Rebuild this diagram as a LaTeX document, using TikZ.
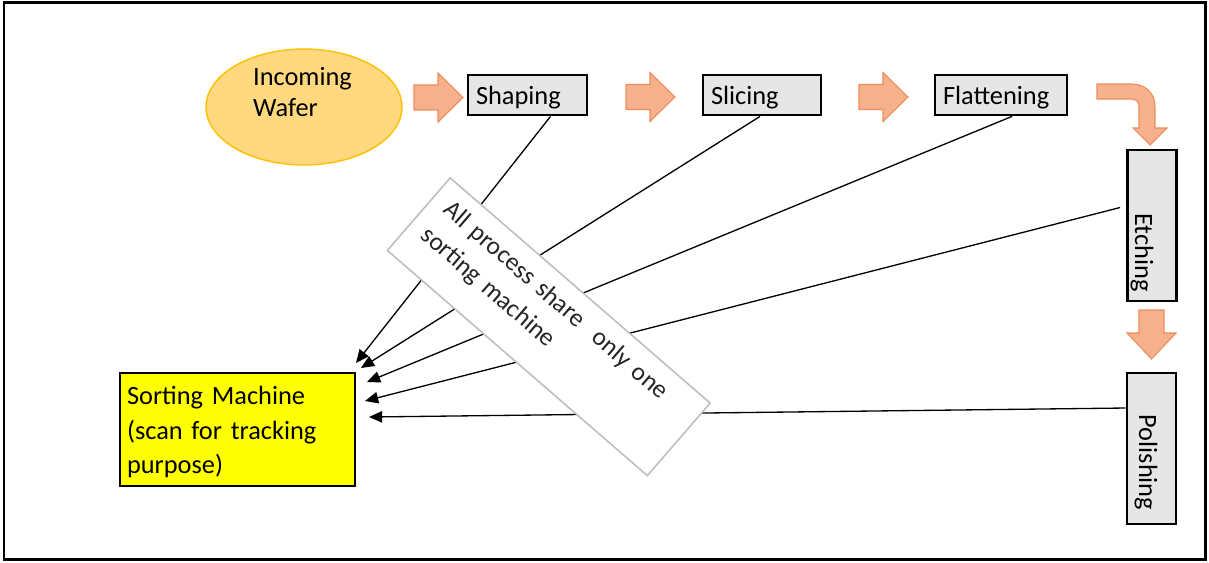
\documentclass[tikz,border=0pt]{standalone}
\usepackage{fontspec}
\setmainfont{Carlito}
\usetikzlibrary{arrows.meta,shapes.geometric,calc}

\definecolor{boxgray}{RGB}{230,230,230}
\definecolor{arrowfill}{RGB}{245,176,140}
\definecolor{arrowedge}{RGB}{240,140,90}
\definecolor{waferfill}{RGB}{255,216,128}
\definecolor{waferedge}{RGB}{255,192,0}
\definecolor{notegray}{RGB}{190,190,190}
\definecolor{sortyellow}{RGB}{255,255,0}

\begin{document}
\begin{tikzpicture}[x=0.02cm,y=-0.02cm,
  font=\fontsize{15}{19.5}\selectfont,
  procbox/.style={draw=black,line width=1.6pt,fill=boxgray,minimum height=0.8cm,
    inner xsep=0.16cm,inner ysep=0pt,align=left,text depth=0pt},
  vbox/.style={draw=black,line width=1.6pt,fill=boxgray,minimum width=0.98cm,
    minimum height=3.02cm,inner sep=0pt},
  vlabel/.style={rotate=-90,inner sep=0pt},
  conn/.style={draw=black,line width=0.75pt,-{Triangle[length=7.5pt,width=6.5pt]}},
  blockarrow/.style={fill=arrowfill,draw=arrowedge,line width=0.6pt,line join=miter},
  rarrow/.pic={\filldraw[blockarrow] (0,-12.5) -- (24,-12.5) -- (24,-24.5) -- (49,0)
    -- (24,24.5) -- (24,12.5) -- (0,12.5) -- cycle;},
  darrow/.pic={\filldraw[blockarrow] (-12.5,0) -- (-12.5,23) -- (-24.5,23) -- (0,49)
    -- (24.5,23) -- (12.5,23) -- (12.5,0) -- cycle;}
]
\useasboundingbox (0,0) rectangle (1209,562);

% outer frame
\draw[line width=1.4pt] (4,2.5) rectangle (1205.5,559.5);

% incoming wafer
\node[ellipse,draw=waferedge,fill=waferfill,line width=0.8pt,
  minimum width=3.92cm,minimum height=2.32cm] (wafer) at (304,107) {};
\node[align=left,inner sep=0pt,font=\fontsize{15}{18}\selectfont] (wafertxt) at (302.5,92) {Incoming\\Wafer};

% process steps along the top
\node[procbox,text width=2.06cm] (shaping) at (527.5,95) {Shaping};
\node[procbox,text width=2.04cm] (slicing) at (762,95) {Slicing};
\node[procbox,text width=2.32cm] (flattening) at (1001,95) {Flattening};

% process steps down the right side
\node[vbox] (etching) at (1152,225.5) {};
\node[vlabel] (etchingtxt) at (1142,252.5) {Etching};
\node[vbox] (polishing) at (1151.5,448.5) {};
\node[vlabel] (polishingtxt) at (1146,462.5) {Polishing};

% flow arrows
\pic at (414,97.5) {rarrow};
\pic at (626,97) {rarrow};
\pic at (859,97) {rarrow};
\filldraw[blockarrow] (1097,84) -- (1132,84)
  .. controls (1145,84) and (1155,93) .. (1155,106) -- (1155,128) -- (1167,128)
  -- (1150,145) -- (1133,128) -- (1139,128) -- (1139,106)
  .. controls (1139,102) and (1136,99) .. (1131,99) -- (1097,99) -- cycle;
\pic at (1151.5,310) {darrow};

% sorting machine
\node[draw=black,line width=1.6pt,fill=sortyellow,minimum width=4.7cm,minimum height=2.26cm,
  text width=4.42cm,inner xsep=0.14cm,align=left,text depth=38.5pt] (sorter) at (237.5,429.5)
  {Sorting Machine\\(scan for tracking\\purpose)};

% arrow ends next to the sorting machine
\coordinate (t1) at (356,363);
\coordinate (t2) at (361,368);
\coordinate (t3) at (367,382);
\coordinate (t4) at (365,401);
\coordinate (t5) at (369,417);

% every step feeds the sorting machine
\draw[conn] ($(shaping.south)+(23,0)$) -- (t1);
\draw[conn] ($(slicing.south)+(-2,0)$) -- (t2);
\draw[conn] ($(flattening.south)+(11,0)$) -- (t3);
\draw[conn] ($(etching.west)+(-6,-18)$) -- (t4);
\draw[conn] ($(polishing.west)+(0,-40.5)$) -- (t5);

% note laid across the connectors
\node[draw=notegray,line width=0.9pt,fill=white,rotate=-40.9,
  minimum width=6.88cm,minimum height=1.92cm,text width=6.24cm,inner xsep=0.32cm,
  align=left,text depth=29.5pt,text=black!85,font=\fontsize{14.5}{19.5}\selectfont]
  (note) at (548.75,326.75)
  {All process share\ \ only one\\sorting machine};
\end{tikzpicture}
\end{document}
